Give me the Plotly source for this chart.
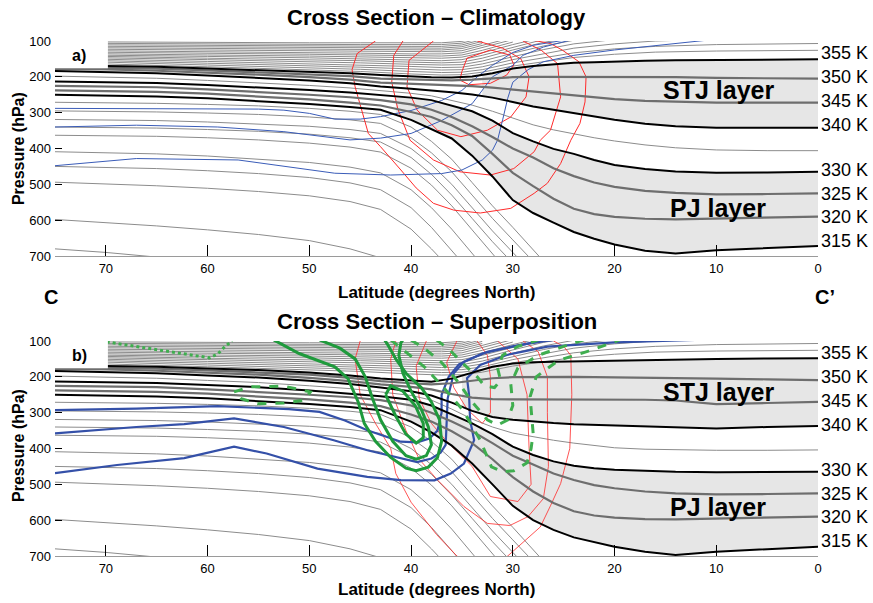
import numpy as np
import plotly.graph_objects as go

# ---------------- data ----------------
LAT = [75, 70, 65, 60, 55, 50, 46, 43, 40, 38, 36, 34, 32, 30, 28, 26, 24, 22, 20, 17, 14, 10, 5, 0]
TOP_LAT = [75, 70, 60, 50, 45, 40, 37, 35, 33, 30, 27, 24, 20, 16, 10, 5, 0]

# panel a isentropes (hPa on LAT)
a_355 = [168,169,172,177,181,185,190,195,199,201,202,199,190,177,170,165,161,159,157,155,154,153,152,151]
a_350 = [173,174,177,182,187,192,198,205,208,210,210,208,204,201,200,200,200,200,200,200,201,203,204,205]
a_345 = [178,179,183,188,194,201,208,216,219,221,223,226,230,235,240,246,252,257,262,267,270,272,272,272]
a_340 = [184,186,190,196,202,210,218,227,233,237,243,249,258,270,283,292,301,311,320,331,338,342,342,342]
a_335 = [198,200,204,210,216,224,231,238,246,253,265,279,296,316,334,348,360,370,379,390,398,404,406,406]
a_330 = [213,214,217,223,229,237,244,250,258,265,280,296,322,357,380,401,415,432,446,457,464,468,467,465]
a_325 = [225,226,229,235,242,250,257,265,277,292,312,338,368,400,425,455,477,495,507,518,524,528,527,525]
a_320 = [238,239,242,247,254,263,272,280,298,312,335,365,415,468,505,540,568,583,591,596,598,596,593,590]
a_315 = [250,252,255,260,267,276,284,292,320,345,372,420,478,544,580,607,633,652,668,685,693,684,677,672]

# panel b isentropes
b_355 = [168,169,172,177,181,188,196,205,211,214,205,188,172,163,159,158,157,156,155,153,151,150,149,148]
b_350 = [173,174,177,182,187,194,203,212,218,221,218,210,204,201,200,200,200,201,202,203,204,205,207,209]
b_345 = [178,179,183,188,194,203,212,221,228,235,248,258,262,263,263,263,263,263,263,264,266,276,273,270]
b_340 = [184,186,190,196,202,211,220,230,240,252,272,295,312,320,325,329,332,334,336,339,342,344,340,337]
b_335 = [198,200,204,210,216,225,233,242,252,265,290,318,340,357,368,377,385,392,398,402,404,405,405,404]
b_330 = [213,214,217,223,229,238,246,254,264,280,305,330,360,395,418,436,448,455,459,462,465,466,466,465]
b_325 = [225,226,229,235,242,250,257,265,280,300,325,352,385,420,445,470,488,502,511,520,525,528,527,525]
b_320 = [238,239,242,247,254,263,272,282,305,325,352,385,430,480,520,552,575,587,593,597,598,596,593,590]
b_315 = [250,252,255,260,267,276,284,293,325,355,392,442,500,560,600,627,648,662,674,688,697,688,680,674]

# colder isentropes (thin), on the first points of LAT
low_lines = [
    [271,272,274,277,281,288,296,305,340,380,430,495,560,620,683,745,800],
    [295,296,298,301,305,312,320,330,370,412,465,530,595,655,715,775],
    [319,320,322,326,331,338,347,358,400,445,500,565,630,690,750],
    [340,341,343,347,352,360,370,382,425,472,530,595,660,720],
    [363,364,366,370,376,385,396,410,455,502,560,627,695,760],
    [409,411,415,421,429,439,452,468,515,565,625,695,760],
    [450,452,456,462,470,481,496,515,565,620,685,750],
    [494,498,504,511,520,532,548,570,625,680,740],
    [598,606,616,627,640,657,680,705,760],
    [680,690,703,720],
]

# warm (stratospheric) isentropes, on the first points of TOP_LAT
top_lines = [
    [163,164,172,180,185,192,195,194,187,170,157,146,137,131,128,127,126],
    [158,159,167,174,179,185,188,187,180,161,146,133,122,115,110,108,107],
    [154,155,162,168,173,178,181,180,172,152,135,120,108,100,95,93,92],
    [150,151,157,163,167,171,174,173,164,143,124,108,96],
    [146,147,152,157,161,165,167,166,156,134,114,98],
    [142,143,148,152,155,159,161,159,148,125,104,90],
    [138,139,143,147,149,153,155,152,140,117,96],
    [134,135,139,142,144,147,148,145,133,110,90],
    [130,131,135,137,139,141,142,139,126,103],
    [126,127,130,132,134,136,136,133,119,96],
    [122,123,126,128,129,130,130,127,113,90],
    [118,119,122,123,124,125,125,121,107],
    [114,115,117,118,119,120,120,116,101],
    [110,111,113,114,115,115,115,111,96],
    [106,107,109,110,110,110,110,106,91],
    [102,103,105,105,105,105,105,101,88],
]

# isotachs panel a (lat, p)
red_a = [
    ([43.5,45.3,45.8,45.5,44.2,43,41,39.5,37.8,35.8,33.2,30.2,27.9,26.6,25.3,24.3,23.4,22.9,22.8,23.5,25.1,26.3,28],
     [100,135,180,228,358,395,460,510,553,572,580,567,525,497,442,377,330,270,200,158,126,107,98]),
    ([40.8,41.7,41.9,41.3,40.1,37.8,35.2,32.2,29.9,27.9,27.3,26.3,25.3,25.6,27.2,29],
     [100,140,215,290,377,432,465,474,456,409,377,349,256,163,126,100]),
    ([37.8,40.2,40.4,39.4,37.4,35.1,32.5,30.2,28.7,28.4,29.2,31,33.5],
     [100,154,228,293,349,367,349,312,256,200,150,120,100]),
    ([35,35.2,34.3,32.2,30.6,29.9,30.3,32.2,34.5,35],
     [185,209,222,218,195,167,139,125,148,185]),
]
# PV contours panel a
blue_a = [
    ([75,65,55,52.5,50,47.5,45,43,40,37,35,33.5,32,30,28,25,22],
     [288,288,290,293,302,318,318,311,294,266,238,200,168,132,112,98,92]),
    ([75,67,59,52.5,46,43,40,37,34,32,30,29,27,24],
     [340,335,340,353,376,371,358,322,275,200,168,140,117,95]),
    ([75,67,57,47.5,42,37,35,33,32,31.5,31,30.5,30,28.5,27,24,20,15,10.8,9],
     [448,428,432,469,474,470,460,432,405,377,320,260,215,180,158,140,125,110,96,92]),
]
# isotachs panel b
red_b = [
    ([45,45.5,45,43.5,42,41.5,40,37.5,35.5,33.2,30.5,28.5,27.3,26.3,25.3,24.4,24.2,24.3,25,26],
     [100,150,250,330,400,470,550,640,700,740,700,650,619,560,498,400,250,140,115,100]),
    ([41.5,42,41.8,40.5,39.2,37.4,34.8,32.5,30.3,28.5,27,26.5,26.6,26.6,27.5,29],
     [100,150,250,350,430,488,562,609,615,590,540,450,300,200,130,100]),
    ([38.5,39.5,39.2,38,36.5,34,32.2,29.5,28.2,28.4,28.6,29.5,31.5],
     [100,170,260,330,380,450,534,548,500,400,250,150,100]),
    ([35.5,36.5,35.8,34.5,33,32.2,32.2,32.5,33.5],
     [100,160,230,290,330,300,200,140,100]),
]
# PV contours panel b
blue_b = [
    ([75,67,59,52,49,46.5,44.3,41,39.4,38.2,37.4,37,37,36.3,35.3,33,30,27,25],
     [293,289,282,290,298,322,349,381,383,372,350,300,250,200,165,135,115,100,93]),
    ([75,67,62.3,57.4,52.5,47.6,44.3,41,39.4,38,37.1,36.6,36.5,36.4,35.8,34.8,32.5,28.3,24.7],
     [358,340,332,316,340,377,405,428,438,428,412,390,330,260,190,158,130,106,92]),
    ([75,68.9,62.3,57.4,54.2,49.2,44.3,41,37.7,36.1,34.8,33.8,34.2,34.3,34.5,33.2,30.6,26.6,20,15,11],
     [469,446,427,395,414,456,479,488,489,470,442,377,320,250,204,167,139,116,104,100,96]),
]
# composite anomalies panel b: solid (positive) and dashed (negative)
green_solid = [
    ([53.5,51,47.5,46.2,45.2,44.6,43.5,42,40.5,39.5,38.3,37.4,37,37.2,38,39,40.5,41.5,42.3,42.6],
     [97,135,172,205,270,330,380,425,455,462,452,425,380,320,270,230,190,150,110,97]),
    ([49,47,45.5,44.5,43.8,43,41.8,40.5,39.5,38.5,38,38.3,39,40,40.8,41.2,41,40.8],
     [97,120,150,200,260,320,380,420,430,420,390,340,290,240,190,140,105,97]),
    ([42.5,41.5,40.5,39.5,38.8,38.8,39.6,40.8,42,42.5],
     [250,310,360,385,370,330,280,240,225,250]),
]
green_dash = [
    ([42,40.5,38.7,36.8,34.9,33.2,32.1,31,29.9,28.6,28.2,28,28.3,27.7,25.5,22.3,19.5],
     [97,130,172,230,293,377,451,465,462,440,400,357,256,200,154,126,97]),
    ([40,38.5,37,35.5,34,32.5,31.5,30.5,30,30.2,29.5,27.5,25,23],
     [97,125,160,210,270,320,335,320,280,220,175,140,115,97]),
    ([37.5,36.2,35,33.5,32.8,31.8,31.2,31.5,31,29.5,27.5],
     [97,125,160,200,225,230,210,175,140,115,97]),
    ([57.4,55.8,52.5,49.9,50.5,52.5,55.1,56.7,57.4],
     [242,228,226,242,265,273,275,261,242]),
]
green_dot = ([70.5,66.7,64,61.8,59.8,59,58.3,57.6], [100,116,128,137,147,136,116,100])

right_labels = ["355 K", "350 K", "345 K", "340 K", "330 K", "325 K", "320 K", "315 K"]
right_label_p = [134, 201, 268, 335, 460, 527, 591, 658]
xticks = [70, 60, 50, 40, 30, 20, 10, 0]
yticks = [100, 200, 300, 400, 500, 600, 700]

# ---------------- figure ----------------
FONT = "Liberation Sans, Arial, Helvetica, sans-serif"
GRAY_THIN = "#8c8c8c"
GRAY_MED = "#6e6e6e"
SHADE = "#e6e6e6"

fig = go.Figure()


def ax(panel):
    return ("x", "y") if panel == 1 else ("x2", "y2")


def add_line(lats, ps, color, width, panel, dash="solid"):
    xa, ya = ax(panel)
    fig.add_trace(go.Scatter(x=lats, y=ps, mode="lines", xaxis=xa, yaxis=ya,
                             line=dict(color=color, width=width, dash=dash),
                             hoverinfo="skip", showlegend=False))


def add_band(upper, lower, cutoff, panel):
    lat = np.array(LAT, dtype=float)
    u = np.array(upper, dtype=float)
    lo = np.array(lower, dtype=float)
    uc = np.interp(cutoff, lat[::-1], u[::-1])
    lc = np.interp(cutoff, lat[::-1], lo[::-1])
    m = lat < cutoff
    xs = [cutoff] + list(lat[m]) + list(lat[m][::-1]) + [cutoff]
    ys = [uc] + list(u[m]) + list(lo[m][::-1]) + [lc]
    xa, ya = ax(panel)
    fig.add_trace(go.Scatter(x=xs, y=ys, mode="lines", fill="toself", fillcolor=SHADE,
                             line=dict(width=0, color=SHADE), xaxis=xa, yaxis=ya,
                             hoverinfo="skip", showlegend=False))


panels = {
    1: dict(t355=a_355, t350=a_350, t345=a_345, t340=a_340, t335=a_335,
            t330=a_330, t325=a_325, t320=a_320, t315=a_315,
            red=red_a, blue=blue_a, red_w=1.0, blue_w=1.0, blue_c="#3a5cb8",
            stj_cut=33, pj_cut=41.5),
    2: dict(t355=b_355, t350=b_350, t345=b_345, t340=b_340, t335=b_335,
            t330=b_330, t325=b_325, t320=b_320, t315=b_315,
            red=red_b, blue=blue_b, red_w=0.8, blue_w=2.2, blue_c="#3450a8",
            stj_cut=35, pj_cut=40.5),
}

for k, P in panels.items():
    add_band(P["t355"], P["t340"], P["stj_cut"], k)
    add_band(P["t330"], P["t315"], P["pj_cut"], k)
    for ps in top_lines:
        add_line(TOP_LAT[:len(ps)], ps, GRAY_THIN, 1.0, k)
    for ps in low_lines:
        add_line(LAT[:len(ps)], ps, GRAY_THIN, 1.0, k)
    add_line(LAT, P["t335"], GRAY_THIN, 1.0, k)
    for lats, ps in P["red"]:
        add_line(lats, ps, "#ff2a2a", P["red_w"], k)
    for lats, ps in P["blue"]:
        add_line(lats, ps, P["blue_c"], P["blue_w"], k)
    for key in ["t350", "t345", "t325", "t320"]:
        add_line(LAT, P[key], GRAY_MED, 2.2, k)
    for key in ["t355", "t340", "t330", "t315"]:
        add_line(LAT, P[key], "black", 2.0, k)

for lats, ps in green_solid:
    add_line(lats, ps, "#1f9a3c", 3.0, 2)
for lats, ps in green_dash:
    add_line(lats, ps, "#3fae4f", 3.0, 2, dash="dash")
add_line(green_dot[0], green_dot[1], "#3fae4f", 3.0, 2, dash="dot")

# axes
axis_x = dict(range=[75, 0], tickvals=xticks, ticks="inside", ticklen=11, tickcolor="black",
              showline=True, linecolor="#9a9a9a", linewidth=1, showgrid=False, zeroline=False,
              tickfont=dict(family=FONT, size=13, color="black"))
axis_y = dict(range=[700, 100], tickvals=yticks, ticks="inside", ticklen=7, tickcolor="black",
              showline=False, showgrid=False, zeroline=False, ticklabelstandoff=3,
              tickfont=dict(family=FONT, size=13, color="black"))

fig.update_layout(
    width=873, height=603, autosize=False,
    margin=dict(l=55, r=55, t=41, b=47),
    paper_bgcolor="white", plot_bgcolor="white",
    xaxis=dict(axis_x, domain=[0, 1], anchor="y"),
    yaxis=dict(axis_y, domain=[0.5825, 1], anchor="x"),
    xaxis2=dict(axis_x, domain=[0, 1], anchor="y2"),
    yaxis2=dict(axis_y, domain=[0, 0.4175], anchor="x2"),
    showlegend=False,
)

ann = []
shapes = []


def note(text, x, y, size, xref="paper", yref="paper", bold=False, **kw):
    d = dict(text=("<b>%s</b>" % text) if bold else text, xref=xref, yref=yref, x=x, y=y,
             showarrow=False, xanchor=kw.pop("xanchor", "center"), yanchor=kw.pop("yanchor", "middle"),
             font=dict(family=FONT, size=size, color="black"))
    d.update(kw)
    ann.append(d)


for panel, yref, xref, tag, title, ytitle, yxlab, yylab in [
    (1, "y", "x", "a)", "Cross Section \u2013 Climatology", 1.0466, 0.5107, 0.792),
    (2, "y2", "x2", "b)", "Cross Section \u2013 Superposition", 0.4544, -0.066, 0.2155),
]:
    note(title, 0.5, ytitle, 22, bold=True)
    note("Latitude (degrees North)", 0.5, yxlab, 17, bold=True)
    note("Pressure (hPa)", -0.0485, yylab, 16, bold=True, textangle=-90)
    for lab, p in zip(right_labels, right_label_p):
        note(lab, 1.0, p, 18, yref=yref, xanchor="left", xshift=1)
    note("STJ layer", 9.8, 236 if panel == 1 else 243, 25, xref=xref, yref=yref, bold=True)
    note("PJ layer", 9.8, 566 if panel == 1 else 563, 25, xref=xref, yref=yref, bold=True)
    shapes.append(dict(type="rect", xref=xref, yref=yref, x0=75, x1=69.8, y0=100, y1=176,
                       fillcolor="white", line=dict(width=0), layer="above"))
    note(tag, 72.6, 140, 16, xref=xref, yref=yref, bold=True)

note("C", -0.0052, 0.503, 20, bold=True)
note("C\u2019", 1.009, 0.503, 20, bold=True)

fig.update_layout(annotations=ann, shapes=shapes)
fig.write_html("out.html", config={"displayModeBar": False, "staticPlot": True},
               post_script="document.body.style.margin='0';")
